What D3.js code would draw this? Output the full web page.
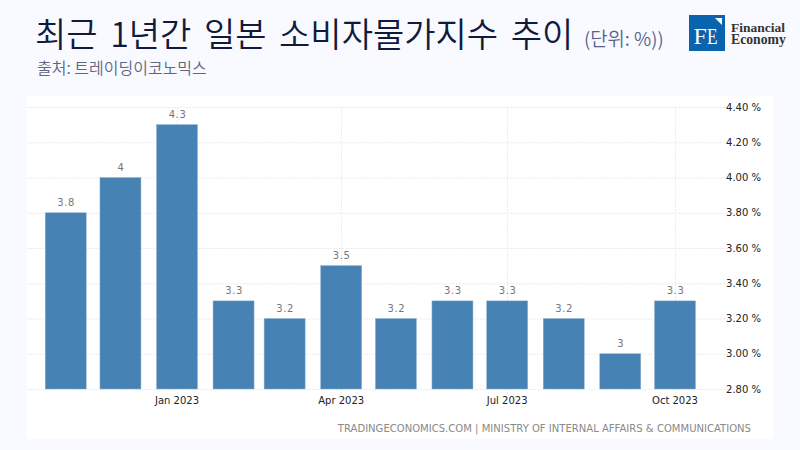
<!DOCTYPE html>
<html><head><meta charset="utf-8">
<script src="https://cdn.jsdelivr.net/npm/d3@7"></script>
<style>html,body{margin:0;padding:0;background:#f9faff;}svg{display:block;}</style>
</head><body><svg id="c" width="800" height="450"></svg>
<script>
const months=["2022-11-01","2022-12-01","2023-01-01","2023-02-01","2023-03-01","2023-04-01","2023-05-01","2023-06-01","2023-07-01","2023-08-01","2023-09-01","2023-10-01"];
const values=[3.8,4,4.3,3.3,3.2,3.5,3.2,3.3,3.3,3.2,3,3.3];
const labels=["3.8","4","4.3","3.3","3.2","3.5","3.2","3.3","3.3","3.2","3","3.3"];
const yTicks=[2.8,3,3.2,3.4,3.6,3.8,4,4.2,4.4];
const xTicks=["2023-01-01","2023-04-01","2023-07-01","2023-10-01"];
const xTickLabels=["Jan 2023","Apr 2023","Jul 2023","Oct 2023"];
const title="최근 1년간 일본 소비자물가지수 추이";
const unit="(단위: %))";
const subtitle="출처: 트레이딩이코노믹스";
const credit="TRADINGECONOMICS.COM | MINISTRY OF INTERNAL AFFAIRS & COMMUNICATIONS";
const KR="'Noto Sans CJK KR','Noto Sans',sans-serif", UI="'DejaVu Sans',sans-serif";
const parse=d3.utcParse("%Y-%m-%d");
const svg=d3.select("#c");
const x=d3.scaleUtc().domain([parse("2023-01-01"),parse("2023-10-01")]).range([177,675]);
const y=d3.scaleLinear().domain([2.8,4.4]).range([389,107]);

svg.append("rect").attr("width",800).attr("height",450).attr("fill","#f9faff");
svg.append("rect").attr("x",27).attr("y",96).attr("width",746).attr("height",343).attr("fill","#fff");

// gridlines
svg.append("g").selectAll("line").data(yTicks).join("line")
 .attr("x1",27).attr("x2",733).attr("y1",d=>y(d)+.5).attr("y2",d=>y(d)+.5)
 .attr("stroke","#ececec").attr("stroke-dasharray","2,1");
svg.append("g").selectAll("line").data(xTicks).join("line")
 .attr("x1",d=>Math.round(x(parse(d)))+.5).attr("x2",d=>Math.round(x(parse(d)))+.5)
 .attr("y1",107).attr("y2",394).attr("stroke","#ececec").attr("stroke-dasharray","2,1");

// bars
const bw=41;
svg.append("g").selectAll("rect").data(values).join("rect")
 .attr("x",(d,i)=>x(parse(months[i]))-bw/2).attr("width",bw)
 .attr("y",d=>y(d)).attr("height",d=>y(2.8)-y(d))
 .attr("fill","#4682b4").attr("stroke","#8fb2d2").attr("stroke-width",.5);
svg.append("g").selectAll("text").data(values).join("text")
 .attr("x",(d,i)=>x(parse(months[i]))+.5).attr("y",d=>y(d)-7)
 .attr("text-anchor","middle").attr("font-family",UI).attr("font-size",10).attr("letter-spacing",.6)
 .attr("fill","#777").text((d,i)=>labels[i]);

// axes labels
svg.append("g").selectAll("text").data(yTicks).join("text")
 .attr("x",761).attr("y",d=>y(d)+3.5).attr("text-anchor","end")
 .attr("font-family",UI).attr("font-size",10).attr("fill","#222").text(d=>d.toFixed(2)+" %");
svg.append("g").selectAll("text").data(xTicks).join("text")
 .attr("x",d=>x(parse(d))).attr("y",403.5).attr("text-anchor","middle")
 .attr("font-family",UI).attr("font-size",10).attr("fill","#222").text((d,i)=>xTickLabels[i]);
svg.append("text").attr("x",751).attr("y",432).attr("text-anchor","end")
 .attr("font-family",UI).attr("font-size",10.06).attr("fill","#8a8a8a").text(credit);

// headings
svg.append("text").attr("x",35).attr("y",47).attr("font-family",KR).attr("font-size",34)
 .attr("fill","#111a3c").attr("word-spacing",5).attr("font-weight",350).text(title);
svg.append("text").attr("x",584).attr("y",46).attr("font-family",KR).attr("font-size",18.8)
 .attr("fill","#56628c").attr("font-weight",350).text(unit);
svg.append("text").attr("x",37).attr("y",74).attr("font-family",KR).attr("font-size",16)
 .attr("fill","#5e6782").attr("font-weight",350).text(subtitle);

// logo
const lg=svg.append("g");
lg.append("rect").attr("x",689).attr("y",15).attr("width",36).attr("height",36).attr("fill","#0a64ad");
lg.append("path").attr("d","M715 18H722V25Z").attr("fill","#fff");
lg.append("text").attr("x",693.5).attr("y",44).attr("font-family","'Liberation Serif',serif").attr("font-size",24).attr("fill","#fff").text("F");
lg.append("text").attr("transform","translate(707,44) scale(.72,1)").attr("font-family","'Liberation Serif',serif").attr("font-size",24).attr("fill","#fff").text("E");
lg.append("text").attr("x",731).attr("y",32).attr("font-family","'Liberation Serif',serif").attr("font-weight","bold").attr("font-size",13.5).attr("fill","#333").text("Financial");
lg.append("text").attr("x",731).attr("y",44).attr("font-family","'Liberation Serif',serif").attr("font-weight","bold").attr("font-size",13.7).attr("fill","#333").text("Economy");
</script></body></html>
